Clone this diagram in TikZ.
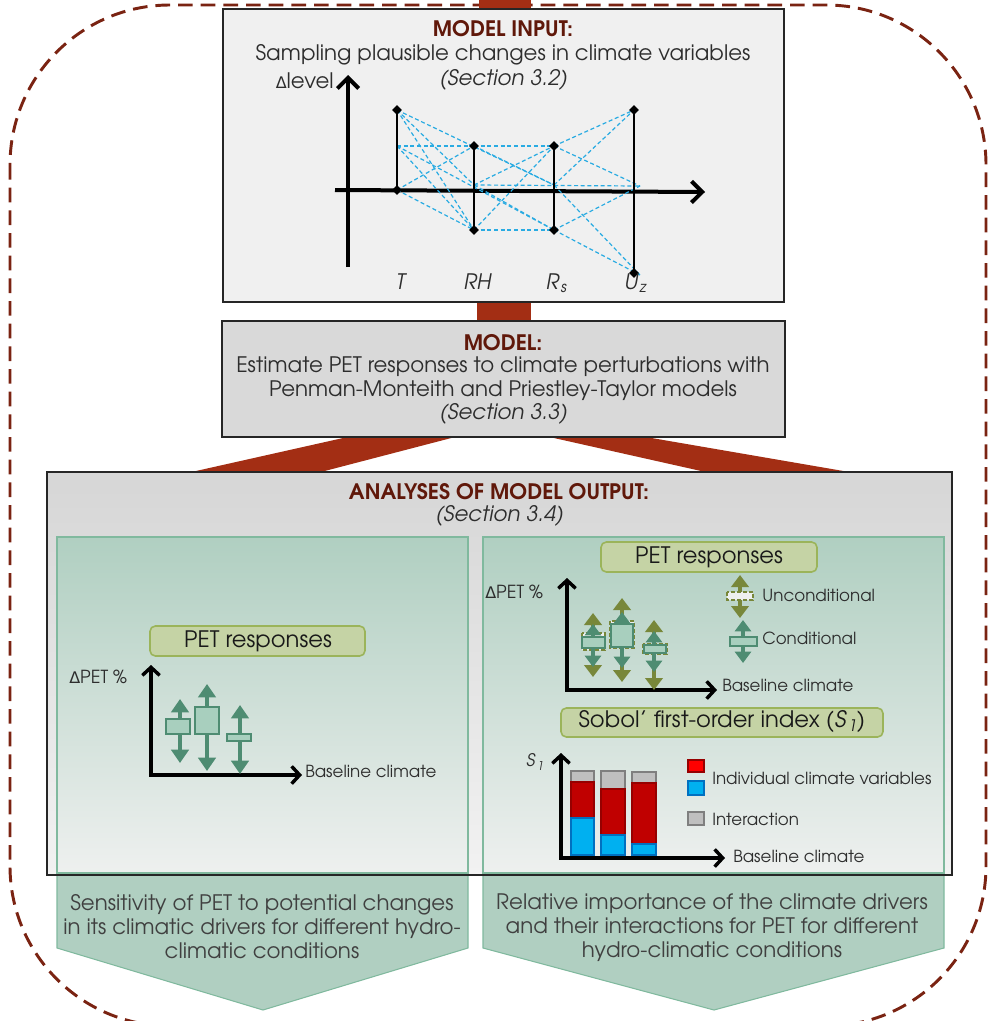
\documentclass[tikz,border=0pt]{standalone}
\usepackage{fontspec}
\setmainfont{texgyreadventor}[Extension=.otf, UprightFont=*-regular, BoldFont=*-bold, ItalicFont=*-italic, BoldItalicFont=*-bolditalic]
\newfontfamily\oblfont{texgyreadventor}[Extension=.otf, UprightFont=*-regular, FakeSlant=0.18]
\newfontfamily\dejavu{DejaVu Sans}
\usetikzlibrary{arrows.meta,shapes.geometric}
\definecolor{brownline}{RGB}{122,35,18}
\definecolor{rust}{RGB}{163,46,20}
\definecolor{titlebrown}{RGB}{96,24,10}
\definecolor{txt}{RGB}{45,45,45}
\definecolor{boxgray}{RGB}{240,240,240}
\definecolor{modelgray}{RGB}{217,217,217}
\definecolor{anagrayT}{RGB}{214,214,214}
\definecolor{anagrayB}{RGB}{242,242,242}
\definecolor{panelgreen}{RGB}{176,207,193}
\definecolor{panellight}{RGB}{238,240,239}
\definecolor{panelborder}{RGB}{128,185,158}
\definecolor{olivefill}{RGB}{197,211,165}
\definecolor{oliveborder}{RGB}{155,180,90}
\definecolor{olive}{RGB}{120,135,58}
\definecolor{dgreen}{RGB}{78,140,114}
\definecolor{lgreen}{RGB}{168,207,190}
\definecolor{sky}{RGB}{41,171,226}
\definecolor{barred}{RGB}{192,0,0}
\definecolor{barredb}{RGB}{150,0,0}
\definecolor{barblue}{RGB}{0,176,240}
\definecolor{barblueb}{RGB}{0,112,192}
\definecolor{bargray}{RGB}{191,191,191}
\definecolor{bargrayb}{RGB}{127,127,127}
\newcommand{\mysub}[1]{\kern1.5pt\textsubscript{#1}}
\tikzset{
  outline/.style={draw=brownline, line width=2.2pt, dash pattern=on 11pt off 6pt, rounded corners=120pt},
  frame/.style={draw=black!85, line width=1.5pt},
  arrowshape/.style={fill=panelgreen, draw=panelborder, line width=0.8pt},
  t15/.style={inner sep=0pt, text=txt, font=\fontsize{16pt}{18pt}\selectfont},
  tobl/.style={inner sep=0pt, text=txt, font=\fontsize{16pt}{18pt}\oblfont},
  ttl/.style={inner sep=0pt, text=titlebrown, font=\fontsize{16pt}{18pt}\selectfont\bfseries},
  t17/.style={inner sep=0pt, text=black!90, font=\fontsize{17pt}{20pt}\selectfont},
  t12/.style={inner sep=0pt, text=txt, font=\fontsize{12.5pt}{15pt}\selectfont},
  tcond/.style={inner sep=0pt, text=black!75, align=center, font=\fontsize{16pt}{18pt}\selectfont},
  axisbig/.style={line width=3pt, black, -{Straight Barb[length=8pt,width=16pt]}},
  axissm/.style={line width=2.6pt, black, {Straight Barb[length=6pt,width=13pt]}-{Straight Barb[length=6pt,width=13pt]}},
  dmd/.style={diamond, fill=black, inner sep=0pt, minimum size=7.5pt},
  samp/.style={sky, line width=0.9pt, dash pattern=on 3pt off 2pt},
  vseg/.style={black, line width=1.2pt},
  labelbox/.style={draw=oliveborder, fill=olivefill, line width=1.2pt, rounded corners=4pt},
  gbox/.style={draw=dgreen, fill=lgreen, line width=1.8pt},
  garrow/.style={dgreen, line width=3pt, -{Triangle[width=13pt,length=10pt]}},
  gsarrow/.style={dgreen, line width=3pt, -{Triangle[width=12pt,length=8.5pt]}},
  osarrow/.style={olive, line width=3pt, -{Triangle[width=13pt,length=9pt]}},
  obox/.style={draw=olive, fill=panellight, line width=1.8pt, dash pattern=on 3pt off 1.5pt},
  redsq/.style={fill=red, draw=barredb, line width=1.2pt},
  bluesq/.style={fill=barblue, draw=barblueb, line width=1.2pt},
  graysq/.style={fill=bargray, draw=bargrayb, line width=1.2pt},
  bred/.style={fill=barred, draw=barredb, line width=1.2pt},
}
\begin{document}
\begin{tikzpicture}[x=0.75pt,y=-0.75pt]
\useasboundingbox (0,0) rectangle (988,1021);

% dashed outline
\begin{scope}
\clip (0,0) rectangle (988,1021);
\draw[outline] (10,5) rectangle (986,1026);
\end{scope}

% brown connectors
\fill[rust] (479,0) rectangle (531,10);
\fill[rust] (477,300) rectangle (531,323);
\fill[rust] (352,436) -- (459,436) -- (317,473) -- (187,473) -- cycle;
\fill[rust] (545,436) -- (640,436) -- (855,473) -- (710,473) -- cycle;

% bottom arrow shapes
\draw[arrowshape] (57,537) -- (468,537) -- (468,948) -- (263,1010) -- (57,948) -- cycle;
\draw[arrowshape] (483,537) -- (944,537) -- (944,948) -- (714,1010) -- (483,948) -- cycle;

% analyses box
\shade[top color=anagrayT, bottom color=anagrayB] (47,472) rectangle (952,875);
\draw[top color=panelgreen, bottom color=panellight, draw=panelborder, line width=0.8pt] (57,537) rectangle (468,873);
\draw[top color=panelgreen, bottom color=panellight, draw=panelborder, line width=0.8pt] (483,537) rectangle (944,873);
\draw[frame] (47,472) rectangle (952,875);

% top box
\draw[frame, fill=boxgray] (223,9) rectangle (784,302);
\node[ttl] (inTitle) at (503,29) {MODEL INPUT:};
\node[t15] (inLine) at (503,55) {Sampling plausible changes in climate variables};
\node[tobl] (inSec) at (503,80) {(Section 3.2)};
\node[t15, anchor=east] (dlevel) at (334,81) {{\dejavu\fontsize{12pt}{14pt}\selectfont Δ}level};

% sampling chart
\coordinate (yBot) at (348,267);
\coordinate (yTop) at (348,75);
\coordinate (xL) at (335,190);
\coordinate (xR) at (705,192);
\draw[axisbig] (yBot) -- (yTop);
\draw[axisbig] (xL) -- (xR);

\coordinate (Ta) at (397,110);
\coordinate (Tb) at (397,146);
\coordinate (Tc) at (397,190);
\coordinate (Ra) at (474,146);
\coordinate (Rb) at (474,185);
\coordinate (Rc) at (474,230);
\coordinate (Sa) at (554,146);
\coordinate (Sb) at (554,185);
\coordinate (Sc) at (554,230);
\coordinate (Ua) at (634,110);
\coordinate (Ub) at (640,186);
\coordinate (Uc) at (640,275);
\coordinate (Ud) at (634,273);

\draw[samp] (Ta) -- (Rb);
\draw[samp] (Ta) -- (Rc);
\draw[samp] (Ta) -- (Sb);
\draw[samp] (Tb) -- (Ra);
\draw[samp] (Tb) -- (Rc);
\draw[samp] (Tb) -- (Sc);
\draw[samp] (Tc) -- (Ra);
\draw[samp] (Tc) -- (Rc);
\draw[samp] (Ra) -- (Sa);
\draw[samp] (Ra) -- (Sb);
\draw[samp] (Rb) -- (Sa);
\draw[samp] (Rb) -- (Ub);
\draw[samp] (Rb) -- (Sc);
\draw[samp] (Rc) -- (Sa);
\draw[samp] (Rc) -- (Sc);
\draw[samp] (Sa) -- (Ua);
\draw[samp] (Sa) -- (Ub);
\draw[samp] (Sb) -- (Ua);
\draw[samp] (Sb) -- (Uc);
\draw[samp] (Sc) -- (Ub);
\draw[samp] (Sc) -- (Uc);

\draw[vseg] (Ta) -- (Tc);
\draw[vseg] (Ra) -- (Rc);
\draw[vseg] (Sa) -- (Sc);
\draw[vseg] (Ua) -- (Ud);

\node[dmd] (dTa) at (Ta) {};
\node[dmd] (dTc) at (Tc) {};
\node[dmd] (dRa) at (Ra) {};
\node[dmd] (dRc) at (Rc) {};
\node[dmd] (dSa) at (Sa) {};
\node[dmd] (dSc) at (Sc) {};
\node[dmd] (dUa) at (Ua) {};
\node[dmd] (dUd) at (Ud) {};

\node[tobl] (lT) at (400,282) {T};
\node[tobl] (lRH) at (477,282) {RH};
\node[tobl] (lRs) at (556,283) {R\mysub{s}};
\node[tobl] (lUz) at (635,283) {U\mysub{z}};

% model box
\draw[frame, fill=modelgray] (222,321) rectangle (785,437);
\node[ttl] (mTitle) at (503,343) {MODEL:};
\node[t15] (mL1) at (503,367) {Estimate PET responses to climate perturbations with};
\node[t15] (mL2) at (503,391) {Penman-Monteith and Priestley-Taylor models};
\node[tobl] (mSec) at (503,414) {(Section 3.3)};

% analyses titles
\node[ttl] (aTitle) at (499,492) {ANALYSES OF MODEL OUTPUT:};
\node[tobl] (aSec) at (499,516) {(Section 3.4)};

% ---------- left panel
\draw[labelbox] (150,626) rectangle (365,656);
\node[t17] (lPet) at (258,641) {PET responses};
\node[t12, anchor=west, font=\fontsize{13.5pt}{15pt}\selectfont] (lDpet) at (69,677) {{\dejavu\fontsize{12pt}{13pt}\selectfont Δ}PET \%};
\coordinate (lAy) at (151,665);
\coordinate (lAo) at (151,775);
\coordinate (lAx) at (302,775);
\draw[axissm] (lAy) -- (lAo) -- (lAx);
\node[t12, anchor=west] (lBase) at (305,771) {Baseline climate};

\draw[garrow] (180,722) -- (180,699);
\draw[garrow] (180,731) -- (180,763);
\draw[gbox] (166,719) rectangle (190,734);
\draw[garrow] (207,710) -- (207,684);
\draw[garrow] (207,731) -- (207,771);
\draw[gbox] (195,707) rectangle (219,734);
\draw[garrow] (240,736) -- (240,705);
\draw[garrow] (240,739) -- (240,774);
\draw[gbox] (227,734) rectangle (251,741);

% ---------- right panel, PET responses
\draw[labelbox] (601,542) rectangle (817,572);
\node[t17] (rPet) at (709,557) {PET responses};
\node[t12, anchor=west, font=\fontsize{13.5pt}{15pt}\selectfont] (rDpet) at (485,592) {{\dejavu\fontsize{12pt}{13pt}\selectfont Δ}PET \%};
\coordinate (rAy) at (567,578);
\coordinate (rAo) at (567,690);
\coordinate (rAx) at (717,690);
\draw[axissm] (rAy) -- (rAo) -- (rAx);
\node[t12, anchor=west] (rBase) at (722,685) {Baseline climate};

% box 1
\draw[osarrow] (593,636) -- (593,613);
\draw[osarrow] (593,647) -- (593,677);
\draw[obox] (582,633) rectangle (605,650);
\draw[gsarrow] (593,640) -- (593,624);
\draw[gsarrow] (593,646) -- (593,667);
\draw[gbox] (582,637) rectangle (605,648);
% box 2
\draw[osarrow] (622,624) -- (622,598);
\draw[osarrow] (622,645) -- (622,682);
\draw[obox] (610,621) rectangle (634,648);
\draw[gsarrow] (622,627) -- (622,612);
\draw[gsarrow] (622,644) -- (622,668);
\draw[gbox] (611,624) rectangle (633,647);
% box 3
\draw[osarrow] (654,646) -- (654,620);
\draw[osarrow] (654,652) -- (654,690);
\draw[obox] (643,644) rectangle (667,654);
\draw[gsarrow] (654,647) -- (654,631);
\draw[gsarrow] (654,651) -- (654,672);
\draw[gbox] (644,645) rectangle (666,653);

% legend
\draw[osarrow] (740,594) -- (740,575);
\draw[osarrow] (740,598) -- (740,618);
\draw[obox] (727,592) rectangle (753,600);
\node[t12, anchor=west] (lgUn) at (762,595) {Unconditional};
\draw[gsarrow] (743,639) -- (743,620);
\draw[gsarrow] (743,644) -- (743,663);
\draw[gbox] (730,637) rectangle (757,646);
\node[t12, anchor=west] (lgCo) at (762,638) {Conditional};

% ---------- right panel, Sobol
\draw[labelbox] (561,708) rectangle (883,737);
\node[t17] (rSob) at (722,722) {Sobol’ first-order index ({\oblfont S}\mysub{\oblfont 1})};
\node[t12, font=\fontsize{13pt}{15pt}\oblfont] (rS1) at (535,762) {S\mysub{1}};
\coordinate (sAy) at (561,753);
\coordinate (sAo) at (561,858);
\coordinate (sAx) at (725,858);

\draw[graysq] (571,771) rectangle (594,782);
\draw[bred] (571,782) rectangle (594,818);
\draw[bluesq] (571,818) rectangle (594,855);
\draw[graysq] (601,771) rectangle (625,789);
\draw[bred] (601,789) rectangle (625,835);
\draw[bluesq] (601,835) rectangle (625,855);
\draw[graysq] (632,772) rectangle (656,783);
\draw[bred] (632,783) rectangle (656,844);
\draw[bluesq] (632,844) rectangle (656,855);

\draw[axissm] (sAy) -- (sAo) -- (sAx);
\node[t12, anchor=west] (sBase) at (733,856) {Baseline climate};

\draw[redsq] (688,760) rectangle (704,772);
\draw[bluesq] (688,781) rectangle (704,795);
\node[t12, anchor=west] (lgInd) at (712,778) {Individual climate variables};
\draw[graysq] (688,812) rectangle (704,825);
\node[t12, anchor=west] (lgInt) at (712,819) {Interaction};

% bottom texts
\node[tcond] (bL) at (262,927) {Sensitivity of PET to potential changes\\in its climatic drivers for different hydro-\\climatic conditions};
\node[tcond] (bR) at (712,928) {Relative importance of the climate drivers\\and their interactions for PET for different\\hydro-climatic conditions};

\end{tikzpicture}
\end{document}
